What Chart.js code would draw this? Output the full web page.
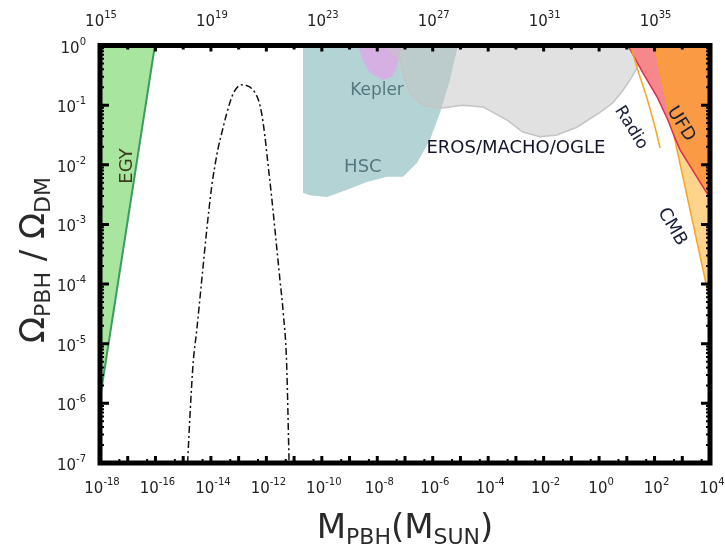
<!DOCTYPE html>
<html>
<head>
<meta charset="utf-8">
<script src="https://cdn.jsdelivr.net/npm/chart.js@4.4.1/dist/chart.umd.min.js"></script>
<style>
  html, body { margin: 0; padding: 0; background: #fff; }
  #wrap { width: 725px; height: 551px; }
</style>
</head>
<body>
<div id="wrap"><canvas id="pbhChart" width="725" height="551"></canvas></div>
<script>
// axis ranges, as powers of ten
const massMinExp = -18, massMaxExp = 4;
const omegaMinExp = -7, omegaMaxExp = 0;
const massTickExps = [-18, -16, -14, -12, -10, -8, -6, -4, -2, 0, 2, 4];
const omegaTickExps = [0, -1, -2, -3, -4, -5, -6, -7];
const gramTickExps = [15, 19, 23, 27, 31, 35];
const gramShift = 33; // top axis label 10^k sits at 10^(k-33) M_sun

// constraint boundaries, log10(M/Msun) and log10(Omega_PBH/Omega_DM)
const egyMass = [-18, -16.02];
const egyOmega = [-5.92, 0];

const hscMass = [-10.68, -10.68, -10.43, -9.81, -9.09, -8.37, -7.65, -7.07, -6.57, -6.10, -5.74, -5.38, -5.09];
const hscOmega = [0, -2.47, -2.51, -2.54, -2.42, -2.29, -2.20, -2.20, -1.97, -1.58, -1.13, -0.58, 0];

const keplerMass = [-8.70, -8.52, -8.26, -7.79, -7.47, -7.29, -7.11];
const keplerOmega = [0, -0.25, -0.46, -0.58, -0.52, -0.36, 0];

const erosMass = [-7.72, -7.43, -7.18, -7.0, -6.82, -6.35, -5.74, -4.91, -4.19, -3.32, -2.75, -2.13, -1.52, -0.80, 0.03, 0.50, 0.86, 1.11, 1.37, 1.55];
const erosOmega = [0, -0.11, -0.24, -0.58, -0.80, -1.00, -1.05, -1.00, -1.03, -1.25, -1.45, -1.53, -1.50, -1.37, -1.12, -0.96, -0.75, -0.58, -0.38, 0];

const radioMass = [1.13, 1.47, 1.71, 1.95, 2.13, 2.20];
const radioOmega = [0, -0.52, -0.86, -1.25, -1.58, -1.72];

const ufdMass = [1.04, 1.58, 2.09, 2.48, 2.69, 2.92, 4];
const ufdOmega = [0, -0.46, -0.86, -1.25, -1.50, -1.75, -2.56];

const cmbMass = [2.01, 2.81, 4];
const cmbOmega = [0, -1.75, -4.3];

// region where UFD and CMB overlap (upper envelope of the two)
const bothMass = [2.01, 2.69, 2.92, 4];
const bothOmega = [0, -1.50, -1.75, -2.56];

// UFD-only wedge, red line down to where it meets CMB
const ufdOnlyMass = [1.04, 1.58, 2.09, 2.48, 2.69];
const ufdOnlyOmega = [0, -0.46, -0.86, -1.25, -1.50];

// extended mass function (dash-dot)
const mfMass = [-14.84, -14.75, -14.64, -14.51, -14.33, -14.15, -13.97, -13.85, -13.73, -13.61, -13.43, -13.19, -12.89, -12.72, -12.53, -12.29, -12.17, -12.05, -11.97, -11.81, -11.69, -11.51, -11.39, -11.27, -11.18];
const mfOmega = [-7, -6.16, -5.32, -4.77, -3.93, -3.09, -2.36, -2.00, -1.70, -1.47, -1.14, -0.80, -0.66, -0.67, -0.72, -0.91, -1.14, -1.53, -1.87, -2.54, -3.09, -3.93, -4.49, -5.32, -7];

const regionLabels = [
    { text: 'EGY', m: -17.03, o: -2.02, angle: -90, color: '#3b3b1d', size: 18 },
    { text: 'Kepler', m: -8.01, o: -0.76, angle: 0, color: '#55777f', size: 17 },
    { text: 'HSC', m: -8.52, o: -2.04, angle: 0, color: '#55777f', size: 18 },
    { text: 'EROS/MACHO/OGLE', m: -3.0, o: -1.72, angle: 0, color: '#14142a', size: 18 },
    { text: 'Radio', m: 1.15, o: -1.38, angle: 58, color: '#1a1f3a', size: 17 },
    { text: 'UFD', m: 2.95, o: -1.32, angle: 58, color: '#1a1f3a', size: 18 },
    { text: 'CMB', m: 2.63, o: -3.04, angle: 60, color: '#1a1f3a', size: 18 }
];

const FONT = "'DejaVu Sans', sans-serif";

function toPoints(massExps, omegaExps) {
    return massExps.map((m, i) => ({ x: Math.pow(10, m), y: Math.pow(10, omegaExps[i]) }));
}

function richText(ctx, parts, x, y, align) {
    let w = 0;
    parts.forEach(p => {
        ctx.font = p.font;
        p.w = ctx.measureText(p.t).width;
        w += p.w;
    });
    let cx = align === 'center' ? x - w / 2 : align === 'right' ? x - w : x;
    ctx.textAlign = 'left';
    ctx.textBaseline = 'alphabetic';
    parts.forEach(p => {
        ctx.font = p.font;
        ctx.fillText(p.t, cx, y + (p.dy || 0));
        cx += p.w;
    });
}

function powLabel(exp) {
    return [
        { t: '10', font: `15px ${FONT}` },
        { t: String(exp), font: `10px ${FONT}`, dy: -8 }
    ];
}

const framePlugin = {
    id: 'frame',
    afterDatasetsDraw(chart) {
        const ctx = chart.ctx;
        const xs = chart.scales.x, ys = chart.scales.y;
        regionLabels.forEach(l => {
            const px = xs.getPixelForValue(Math.pow(10, l.m));
            const py = ys.getPixelForValue(Math.pow(10, l.o));
            ctx.save();
            ctx.translate(px, py);
            ctx.rotate(l.angle * Math.PI / 180);
            ctx.font = `${l.size}px ${FONT}`;
            ctx.fillStyle = l.color;
            ctx.textAlign = 'center';
            ctx.textBaseline = 'middle';
            ctx.fillText(l.text, 0, 0);
            ctx.restore();
        });
    },
    afterDraw(chart) {
        const ctx = chart.ctx;
        const a = chart.chartArea;
        const xs = chart.scales.x, ys = chart.scales.y;
        ctx.save();

        // inward ticks
        ctx.strokeStyle = '#000';
        for (let d = omegaMinExp; d <= omegaMaxExp; d++) {
            for (let k = 1; k <= 9; k++) {
                const v = k * Math.pow(10, d);
                if (v > 1.0001) break;
                const py = ys.getPixelForValue(v);
                const len = k === 1 ? 9 : 4;
                ctx.lineWidth = k === 1 ? 3 : 2;
                ctx.beginPath();
                ctx.moveTo(a.left, py); ctx.lineTo(a.left + len, py);
                ctx.moveTo(a.right, py); ctx.lineTo(a.right - len, py);
                ctx.stroke();
            }
        }
        for (let d = massMinExp; d <= massMaxExp; d++) {
            for (let k = 1; k <= 9; k++) {
                const v = k * Math.pow(10, d);
                if (v > 1.0001e4) break;
                const px = xs.getPixelForValue(v);
                const len = k === 1 ? 7 : (k === 5 ? 4 : 2);
                ctx.lineWidth = k === 1 ? 3 : 2;
                ctx.beginPath();
                ctx.moveTo(px, a.bottom); ctx.lineTo(px, a.bottom - len);
                ctx.stroke();
            }
        }
        for (let g = 15; g <= 37; g++) {
            const px = xs.getPixelForValue(Math.pow(10, g - gramShift));
            ctx.lineWidth = 3;
            ctx.beginPath();
            ctx.moveTo(px, a.top); ctx.lineTo(px, a.top + (g % 2 ? 6 : 4));
            ctx.stroke();
        }

        // frame
        ctx.lineWidth = 5;
        ctx.strokeRect(a.left, a.top, a.right - a.left, a.bottom - a.top);

        // tick labels
        ctx.fillStyle = '#222';
        massTickExps.forEach(e => {
            richText(ctx, powLabel(e), xs.getPixelForValue(Math.pow(10, e)) + 2, a.bottom + 30, 'center');
        });
        omegaTickExps.forEach(e => {
            richText(ctx, powLabel(e), a.left - 14, ys.getPixelForValue(Math.pow(10, e)) + 7, 'right');
        });
        gramTickExps.forEach(e => {
            richText(ctx, powLabel(e), xs.getPixelForValue(Math.pow(10, e - gramShift)) + 1, 26, 'center');
        });

        // axis titles
        ctx.fillStyle = '#2a2a2a';
        const big = `34px ${FONT}`, small = `22px ${FONT}`;
        richText(ctx, [
            { t: 'M', font: big }, { t: 'PBH', font: small, dy: 6 },
            { t: '(M', font: big }, { t: 'SUN', font: small, dy: 6 }, { t: ')', font: big }
        ], 405, 538, 'center');
        ctx.translate(44, 260);
        ctx.rotate(-Math.PI / 2);
        richText(ctx, [
            { t: 'Ω', font: big }, { t: 'PBH', font: small, dy: 6 },
            { t: ' / Ω', font: big }, { t: 'DM', font: small, dy: 6 }
        ], 0, 0, 'center');
        ctx.restore();
    }
};

function area(points, fillColor, order, border) {
    return {
        data: points,
        showLine: true,
        fill: 'end',
        backgroundColor: fillColor,
        borderColor: border ? border.color : 'rgba(0,0,0,0)',
        borderWidth: border ? border.width : 0,
        pointRadius: 0,
        tension: 0,
        order: order
    };
}

function curve(points, color, width, order, dash) {
    return {
        data: points,
        showLine: true,
        fill: false,
        borderColor: color,
        borderWidth: width,
        borderDash: dash || [],
        pointRadius: 0,
        order: order
    };
}

const datasets = [
    area(toPoints(hscMass, hscOmega), '#b4d3d4', 20),
    area(toPoints(keplerMass, keplerOmega), '#d6b0e2', 19),
    area(toPoints(erosMass, erosOmega), 'rgba(196,196,196,0.5)', 18, { color: '#c4c4c4', width: 1.5 }),
    area(toPoints(egyMass, egyOmega), '#a8e6a0', 17, { color: '#3d9b62', width: 2 }),
    Object.assign(curve(toPoints(mfMass, mfOmega), '#111', 1.5, 16, [7, 3, 2, 3]), { cubicInterpolationMode: 'monotone' }),
    area(toPoints(cmbMass, cmbOmega), '#fed38c', 15),
    area(toPoints(ufdOnlyMass, ufdOnlyOmega), '#f6878a', 14),
    area(toPoints(bothMass, bothOmega), '#fa9a45', 13),
    curve(toPoints(cmbMass, cmbOmega), '#f7a51b', 1.5, 12),
    curve(toPoints(ufdMass, ufdOmega), '#dc2c52', 1.5, 11),
    Object.assign(curve(toPoints(radioMass, radioOmega), '#f5a623', 1.5, 10), { cubicInterpolationMode: 'monotone' })
];

new Chart(document.getElementById('pbhChart'), {
    type: 'scatter',
    data: { datasets: datasets },
    options: {
        responsive: false,
        animation: false,
        layout: { padding: { left: 100, right: 15, top: 45.5, bottom: 88 } },
        scales: {
            x: { type: 'logarithmic', min: Math.pow(10, massMinExp), max: Math.pow(10, massMaxExp), display: false },
            y: { type: 'logarithmic', min: Math.pow(10, omegaMinExp), max: Math.pow(10, omegaMaxExp), display: false }
        },
        plugins: { legend: { display: false }, tooltip: { enabled: false } },
        elements: { point: { radius: 0 } }
    },
    plugins: [framePlugin]
});
</script>
</body>
</html>
